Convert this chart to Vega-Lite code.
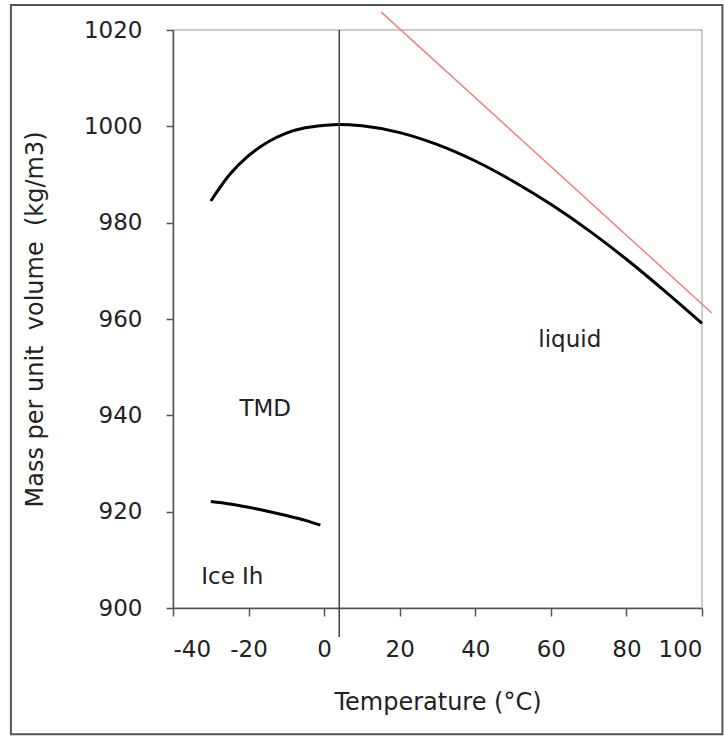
{
  "$schema": "https://vega.github.io/schema/vega-lite/v6.json",
  "autosize": {"type": "none"},
  "width": 529,
  "height": 578,
  "padding": {"left": 173, "top": 30, "right": 22, "bottom": 129},
  "background": "white",
  "config": {
    "view": {"stroke": "#bbbbbb", "strokeWidth": 1.5},
    "font": "DejaVu Sans",
    "axis": {
      "grid": false,
      "domainColor": "#555555",
      "domainWidth": 1.5,
      "tickColor": "#555555",
      "tickWidth": 1.5,
      "labelFont": "DejaVu Sans",
      "labelFontSize": 23,
      "labelColor": "#222222",
      "titleFont": "DejaVu Sans",
      "titleFontSize": 24,
      "titleFontWeight": "normal",
      "titleColor": "#222222"
    }
  },
  "datasets": {
    "liquid": [
      {"t": -30, "rho": 984.5},
      {"t": -25, "rho": 990.0},
      {"t": -20, "rho": 993.9},
      {"t": -15, "rho": 996.7},
      {"t": -10, "rho": 998.6},
      {"t": -5, "rho": 999.7},
      {"t": 0, "rho": 1000.2},
      {"t": 4, "rho": 1000.4},
      {"t": 10, "rho": 1000.1},
      {"t": 20, "rho": 998.7},
      {"t": 30, "rho": 996.2},
      {"t": 40, "rho": 992.8},
      {"t": 50, "rho": 988.6},
      {"t": 60, "rho": 983.8},
      {"t": 70, "rho": 978.4},
      {"t": 80, "rho": 972.4},
      {"t": 90, "rho": 965.9},
      {"t": 100, "rho": 959.1}
    ],
    "ice": [
      {"t": -30, "rho": 922.1},
      {"t": -25, "rho": 921.6},
      {"t": -20, "rho": 920.9},
      {"t": -15, "rho": 920.1},
      {"t": -10, "rho": 919.2},
      {"t": -5, "rho": 918.2},
      {"t": -1, "rho": 917.2}
    ],
    "redline": [
      {"t": 15.1, "rho": 1023.7},
      {"t": 102.6, "rho": 961.25}
    ],
    "tmd": [
      {"t": 4, "top": 1020, "bottom": 894}
    ],
    "labels": [
      {"t": -15.6, "rho": 941.3, "text": "TMD"},
      {"t": 65, "rho": 955.6, "text": "liquid"},
      {"t": -24.3, "rho": 906.5, "text": "Ice Ih"}
    ],
    "frame": [
      {"x1": -82.9, "x2": 105.4, "y1": 873.8, "y2": 1025.2}
    ]
  },
  "layer": [
    {
      "data": {"name": "frame"},
      "mark": {"type": "rect", "fill": null, "stroke": "#555555", "strokeWidth": 2},
      "encoding": {
        "x": {"field": "x1", "type": "quantitative", "scale": {"domain": [-40, 100], "nice": false, "zero": false}},
        "x2": {"field": "x2"},
        "y": {"field": "y1", "type": "quantitative", "scale": {"domain": [900, 1020], "nice": false, "zero": false}},
        "y2": {"field": "y2"}
      }
    },
    {
      "data": {"name": "liquid"},
      "mark": {"type": "line", "color": "black", "strokeWidth": 3, "interpolate": "monotone"},
      "encoding": {
        "x": {
          "field": "t", "type": "quantitative",
          "scale": {"domain": [-40, 100], "nice": false, "zero": false},
          "axis": {
            "title": "Temperature (°C)",
            "values": [-40, -20, 0, 20, 40, 60, 80, 100],
            "labelExpr": "'' + datum.value",
            "tickSize": 8,
            "labelPadding": 22,
            "titleX": 264.5,
            "titleY": 94,
            "titleBaseline": "middle",
            "titleAlign": "center"
          }
        },
        "y": {
          "field": "rho", "type": "quantitative",
          "scale": {"domain": [900, 1020], "nice": false, "zero": false},
          "axis": {
            "title": "Mass per unit\u00a0 volume\u00a0 (kg/m3)",
            "values": [900, 920, 940, 960, 980, 1000, 1020],
            "labelExpr": "'' + datum.value",
            "tickSize": 7,
            "labelPadding": 24,
            "titleX": -138,
            "titleY": 289,
            "titleAngle": 270,
            "titleBaseline": "middle",
            "titleAlign": "center"
          }
        }
      }
    },
    {
      "data": {"name": "ice"},
      "mark": {"type": "line", "color": "black", "strokeWidth": 3, "interpolate": "monotone"},
      "encoding": {
        "x": {"field": "t", "type": "quantitative"},
        "y": {"field": "rho", "type": "quantitative"}
      }
    },
    {
      "data": {"name": "redline"},
      "mark": {"type": "line", "color": "#f08080", "strokeWidth": 1.5},
      "encoding": {
        "x": {"field": "t", "type": "quantitative"},
        "y": {"field": "rho", "type": "quantitative"}
      }
    },
    {
      "data": {"name": "tmd"},
      "mark": {"type": "rule", "color": "#444444", "strokeWidth": 1.5},
      "encoding": {
        "x": {"field": "t", "type": "quantitative"},
        "y": {"field": "top", "type": "quantitative"},
        "y2": {"field": "bottom"}
      }
    },
    {
      "data": {"name": "labels"},
      "mark": {"type": "text", "font": "DejaVu Sans", "fontSize": 23, "color": "#222222", "align": "center", "baseline": "middle"},
      "encoding": {
        "x": {"field": "t", "type": "quantitative"},
        "y": {"field": "rho", "type": "quantitative"},
        "text": {"field": "text"}
      }
    }
  ]
}
